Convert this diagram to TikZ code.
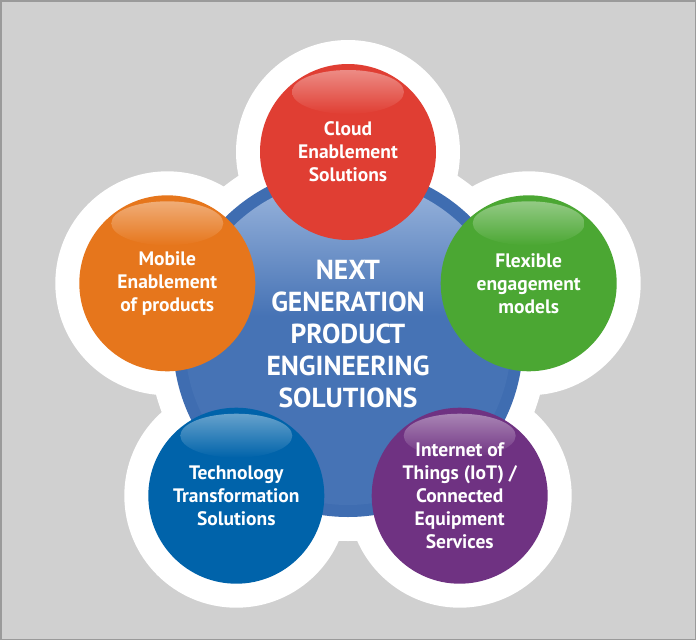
\documentclass[tikz,border=0pt]{standalone}
\usepackage{fontspec}
\setmainfont{PT Sans}
\definecolor{bggray}{HTML}{D0D0D0}
\definecolor{bordergray}{HTML}{9A9A9A}
\definecolor{cred}{HTML}{E03E33}
\definecolor{corange}{HTML}{E6761C}
\definecolor{cgreen}{HTML}{4BA733}
\definecolor{ctech}{HTML}{0063AA}
\definecolor{cpurple}{HTML}{6F3282}
\definecolor{cring}{HTML}{3F6DB1}
\definecolor{cbase}{HTML}{4673B5}
\definecolor{clight}{HTML}{9DB7DE}
\pgfdeclareverticalshading{hubshade}{100bp}{color(0bp)=(cbase); color(54bp)=(cbase); color(75bp)=(clight); color(100bp)=(clight)}
\begin{document}
\begin{tikzpicture}[x=1pt,y=-1pt,
  whiteblob/.style={circle,fill=white,draw=none,inner sep=0pt},
  ball/.style={circle,fill=#1,draw=none,inner sep=0pt,minimum size=176pt},
  gloss/.style={top color=#1!60!white,bottom color=#1},
  balltext/.style={align=center,text=white,font=\bfseries\fontsize{19.5}{23}\selectfont},
  hubtext/.style={align=center,text=white,font=\bfseries\fontsize{27.5}{32}\selectfont}]
\useasboundingbox (0,0) rectangle (696,640);
\fill[bggray] (0,0) rectangle (696,640);
\draw[bordergray,line width=1.5pt] (0.75,0.75) rectangle (695.25,639.25);
% white backdrop
\node[whiteblob,minimum size=398pt] (wc) at (348,342) {};
\foreach \p/\n in {{(348,152)}/w1,{(167.3,283.3)}/w2,{(528.7,283.3)}/w3,{(236.3,495.7)}/w4,{(459.7,495.7)}/w5}
  \node[whiteblob,minimum size=224pt] (\n) at \p {};
% hub
\node[circle,fill=cring,inner sep=0pt,minimum size=350pt] (hub) at (348,342) {};
\shade[shading=hubshade] (348,342) circle[radius=163];
\node[hubtext] (hubt) at (348,334) {NEXT\\GENERATION\\PRODUCT\\ENGINEERING\\SOLUTIONS};
% balls
\foreach \p/\c/\n in {{(348,152)}/cred/b1,{(167.3,283.3)}/corange/b2,{(528.7,283.3)}/cgreen/b3,{(236.3,495.7)}/ctech/b4,{(459.7,495.7)}/cpurple/b5}{
  \node[ball=\c] (\n) at \p {};
  \shade[gloss=\c] ([yshift=60pt]\n.center) ellipse[x radius=56pt,y radius=22pt];
}
\node[balltext] (t1) at (b1) {Cloud\\Enablement\\Solutions};
\node[balltext] (t2) at (b2) {Mobile\\Enablement\\of products};
\node[balltext] (t3) at (b3) {Flexible\\engagement\\models};
\node[balltext] (t4) at (b4) {Technology\\Transformation\\Solutions};
\node[balltext] (t5) at (b5) {Internet of\\Things (IoT) /\\Connected\\Equipment\\Services};
\end{tikzpicture}
\end{document}
